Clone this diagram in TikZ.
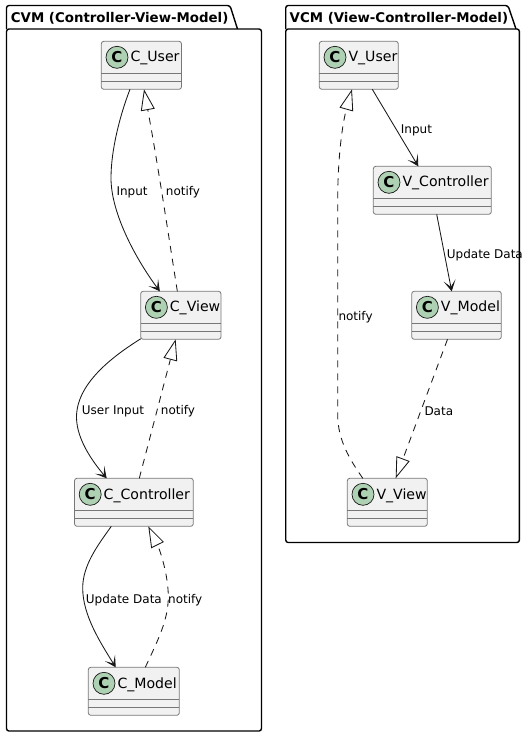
\documentclass[tikz,border=0pt]{standalone}
\usepackage{fontspec}
\setmainfont{DejaVu Sans}
\usetikzlibrary{arrows.meta,calc}
\definecolor{boxfill}{HTML}{F1F1F1}
\definecolor{boxline}{HTML}{777777}
\definecolor{spot}{HTML}{ADD1B2}
\definecolor{ink}{HTML}{181818}
\tikzset{
  classbox/.style={draw=boxline,fill=boxfill,line width=0.8pt,rounded corners=2.5pt,minimum height=48pt,inner sep=0pt,outer sep=0pt},
  divider/.style={draw=boxline,line width=0.8pt},
  spotnode/.style={circle,draw=ink,fill=spot,line width=0.7pt,minimum size=22pt,inner sep=0pt,font=\fontsize{15}{15}\selectfont\bfseries,text=black},
  classlabel/.style={anchor=west,inner sep=0pt,font=\fontsize{14.1}{15}\selectfont,text=black},
  edgelabel/.style={anchor=west,inner sep=0pt,font=\fontsize{12}{14}\selectfont,text=black},
  pkgframe/.style={draw=black,line width=1.4pt,rounded corners=2.5pt,fill=white,inner sep=0pt,outer sep=0pt},
  pkgtitle/.style={anchor=west,inner sep=0pt,font=\fontsize{13.35}{14}\selectfont\bfseries,text=black},
  assoc/.style={draw=ink,line width=0.85pt,-{Stealth[length=11pt,width=12pt,inset=6.5pt]}},
  realize/.style={draw=ink,line width=0.85pt,dash pattern=on 7pt off 6pt,-{Triangle[length=21pt,width=14pt,fill=white]}},
}
\newcommand{\umlclass}[5]{%
  \node[classbox,minimum width={(#3-#2)*1pt}] (#1) at ({(#2+#3)/2},{#4+24}) {};
  \draw[divider] (#2,#4+32) -- (#3,#4+32);
  \draw[divider] (#2,#4+40) -- (#3,#4+40);
  \node[spotnode] (#1spot) at (#2+15.7,#4+16) {C};
  \node[classlabel] (#1text) at (#2+29,#4+17) {#5};
}
\begin{document}
\begin{tikzpicture}[x=1pt,y=-1pt]
\useasboundingbox (0,0) rectangle (530,737);
% packages
\draw[pkgframe] (6.5,29) -- (6.5,5.5) -- (230,5.5) -- (237.5,29);
\node[pkgframe,anchor=north west,minimum width=255pt,minimum height=702pt,fill=none] (cvm) at (6.5,29) {};
\node[pkgtitle] (cvmtitle) at (10.7,18.2) {CVM (Controller-View-Model)};
\draw[pkgframe] (285.7,29) -- (285.7,5.5) -- (508,5.5) -- (516,29);
\node[pkgframe,anchor=north west,minimum width=233.7pt,minimum height=513.5pt,fill=none] (vcm) at (285.7,29) {};
\node[pkgtitle] (vcmtitle) at (289.5,18.2) {VCM (View-Controller-Model)};
% classes
\umlclass{cuser}{101.3}{181.5}{41.3}{C\_User}
\umlclass{cview}{140.7}{221}{291.3}{C\_View}
\umlclass{cctrl}{74.5}{193.3}{478.3}{C\_Controller}
\umlclass{cmodel}{88.3}{179.3}{667.3}{C\_Model}
\umlclass{vuser}{319.3}{398.3}{41.3}{V\_User}
\umlclass{vctrl}{373.3}{491.3}{166.3}{V\_Controller}
\umlclass{vmodel}{411.7}{501.3}{291.3}{V\_Model}
\umlclass{vview}{347.3}{427.3}{478.3}{V\_View}
% connectors
\draw[assoc] ([xshift=-11.4pt]cuser.south) .. controls (120,115) and (111,150) .. (111,178) .. controls (111,215) and (138,262) .. ([xshift=-21pt]cview.north);
\draw[realize] ([xshift=-3.5pt]cview.north) .. controls (170,245) and (158,165) .. ([xshift=2.6pt]cuser.south);
\draw[assoc] ([yshift=0.5pt]cview.south west) .. controls (110,358) and (76,385) .. (76.5,418) .. controls (77,440) and (93,462) .. ([xshift=-27.2pt]cctrl.north);
\draw[realize] ([xshift=5.4pt]cctrl.north) -- ([xshift=-5.2pt]cview.south);
\draw[assoc] ([xshift=-22.6pt]cctrl.south) .. controls (98,545) and (82.7,565) .. (82.7,588) .. controls (82.7,615) and (100,642) .. ([xshift=-18.1pt]cmodel.north);
\draw[realize] ([xshift=11.5pt]cmodel.north) .. controls (158,640) and (168.3,620) .. (168.3,596.7) .. controls (168.3,575) and (160,550) .. ([xshift=14.4pt]cctrl.south);
\draw[assoc] ([xshift=13.5pt]vuser.south) -- ([xshift=-14pt]vctrl.north);
\draw[assoc] ([xshift=4.4pt]vctrl.south) -- ([xshift=-4.8pt]vmodel.north);
\draw[realize] ([xshift=-9pt]vmodel.south) .. controls (436,370) and (410,440) .. ([xshift=8.4pt]vview.north);
\draw[realize] ([xshift=-24.5pt]vview.north) .. controls (350,460) and (337.7,440) .. (337.7,415) -- (337.7,200) .. controls (337.7,160) and (342,125) .. ([xshift=-6.8pt]vuser.south);
% labels
\node[edgelabel] (l1) at (116.3,192.5) {Input};
\node[edgelabel] (l2) at (165.7,192.5) {notify};
\node[edgelabel] (l3) at (81.7,411.5) {User Input};
\node[edgelabel] (l4) at (160.7,411.5) {notify};
\node[edgelabel] (l5) at (85.7,600.5) {Update Data};
\node[edgelabel] (l6) at (168,600.5) {notify};
\node[edgelabel] (l7) at (400.7,130.5) {Input};
\node[edgelabel] (l8) at (446.7,255.5) {Update Data};
\node[edgelabel] (l9) at (338.3,317.5) {notify};
\node[edgelabel] (l10) at (424.3,411.5) {Data};
\end{tikzpicture}
\end{document}
